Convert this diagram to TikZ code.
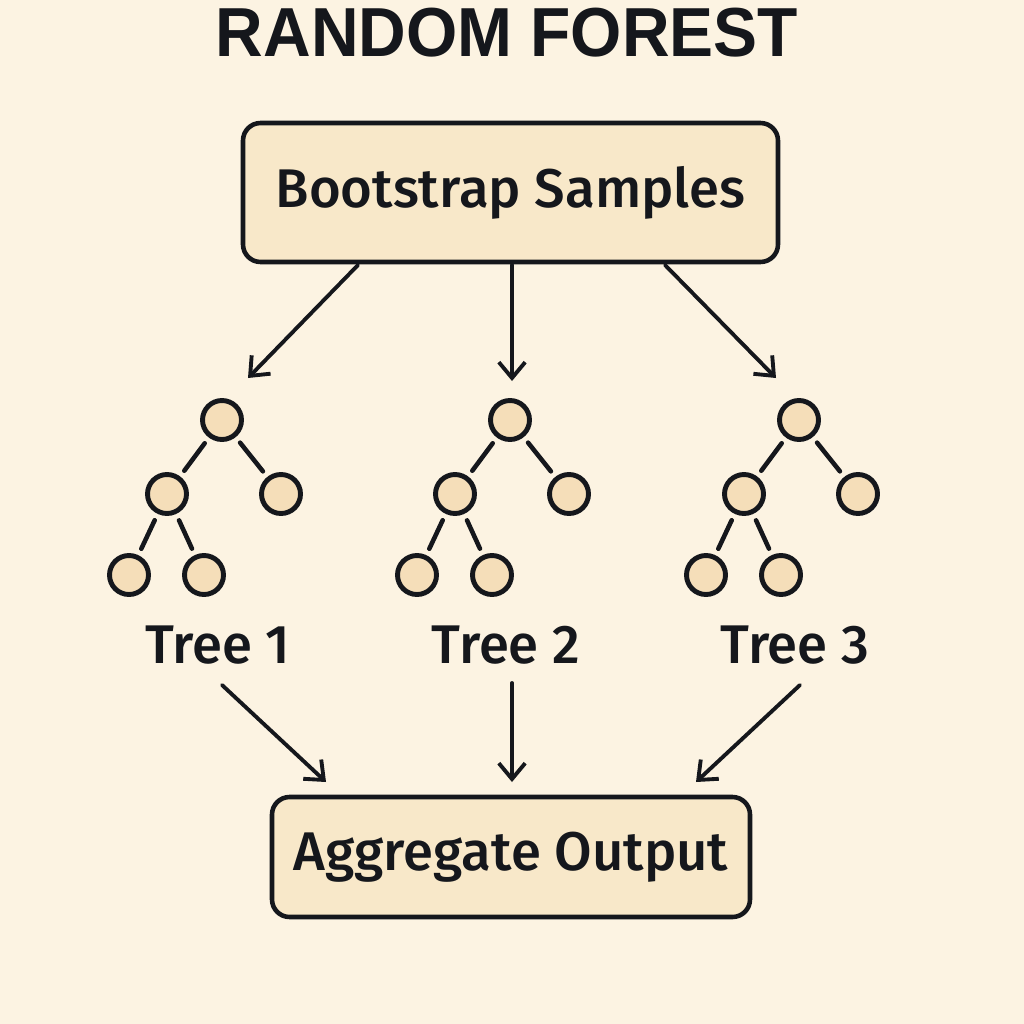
\documentclass[tikz,border=0pt]{standalone}
\usepackage{fontspec}
\setmainfont{Fira Sans Medium}
\newfontfamily\titlefont{Liberation Sans}
\usetikzlibrary{arrows.meta}
\definecolor{bg}{HTML}{FCF3E2}
\definecolor{boxfill}{HTML}{F8E8C9}
\definecolor{nodefill}{HTML}{F5DEB9}
\definecolor{ink}{HTML}{15171C}
\tikzset{
  px/.style={x=0.02cm,y=-0.02cm},
  mainbox/.style={draw=ink,fill=boxfill,line width=2.6pt,rounded corners=10pt,inner sep=0pt},
  tnode/.style={circle,draw=ink,fill=nodefill,line width=2.8pt,minimum size=0.78cm,inner sep=0pt},
  tedge/.style={draw=ink,line width=2.6pt,shorten >=4pt,shorten <=4pt,line cap=round},
  flow/.style={draw=ink,line width=2.2pt,-{Straight Barb[length=9pt,width=15pt,line width=2.2pt]},line cap=round},
  lbl/.style={text=ink,font=\fontsize{31}{36}\selectfont,inner sep=0pt}
}
\begin{document}
\begin{tikzpicture}[px]
\fill[bg] (0,0) rectangle (1024,1024);
\useasboundingbox (0,0) rectangle (1024,1024);
\node[text=ink,inner sep=0pt,xscale=0.95,font=\titlefont\fontsize{39.5}{46}\selectfont\bfseries] (title) at (507,33) {RANDOM FOREST};
\node[mainbox,minimum width=535*0.02cm,minimum height=139*0.02cm] (boot) at (510.5,192.5) {};
\node[lbl] at (boot.center) {Bootstrap Samples};
\node[mainbox,minimum width=478*0.02cm,minimum height=120*0.02cm] (agg) at (511,857) {};
\node[lbl] at (agg.center) {Aggregate Output};
\foreach \i/\dx in {1/0,2/288,3/577}{
  \begin{scope}[xshift=\dx*0.02cm]
  \node[tnode] (r\i) at (222,420) {};
  \node[tnode] (a\i) at (167,494) {};
  \node[tnode] (b\i) at (281,494) {};
  \node[tnode] (c\i) at (129,575) {};
  \node[tnode] (d\i) at (204,575) {};
  \node[lbl] (t\i) at (218,645) {Tree \i};
  \end{scope}
  \draw[tedge] (r\i) -- (a\i);
  \draw[tedge] (r\i) -- (b\i);
  \draw[tedge] (a\i) -- (c\i);
  \draw[tedge] (a\i) -- (d\i);
}
\coordinate (s1) at (358,265); \coordinate (e1) at (248,378);
\coordinate (s2) at (512,265); \coordinate (e2) at (512,381);
\coordinate (s3) at (665,265); \coordinate (e3) at (776,378);
\draw[flow] (s1) -- (e1);
\draw[flow] (s2) -- (e2);
\draw[flow] (s3) -- (e3);
\coordinate (u1) at (222,685); \coordinate (v1) at (326,782);
\coordinate (u2) at (512,683); \coordinate (v2) at (512,782);
\coordinate (u3) at (800,685); \coordinate (v3) at (696,782);
\draw[flow] (u1) -- (v1);
\draw[flow] (u2) -- (v2);
\draw[flow] (u3) -- (v3);
\end{tikzpicture}
\end{document}
